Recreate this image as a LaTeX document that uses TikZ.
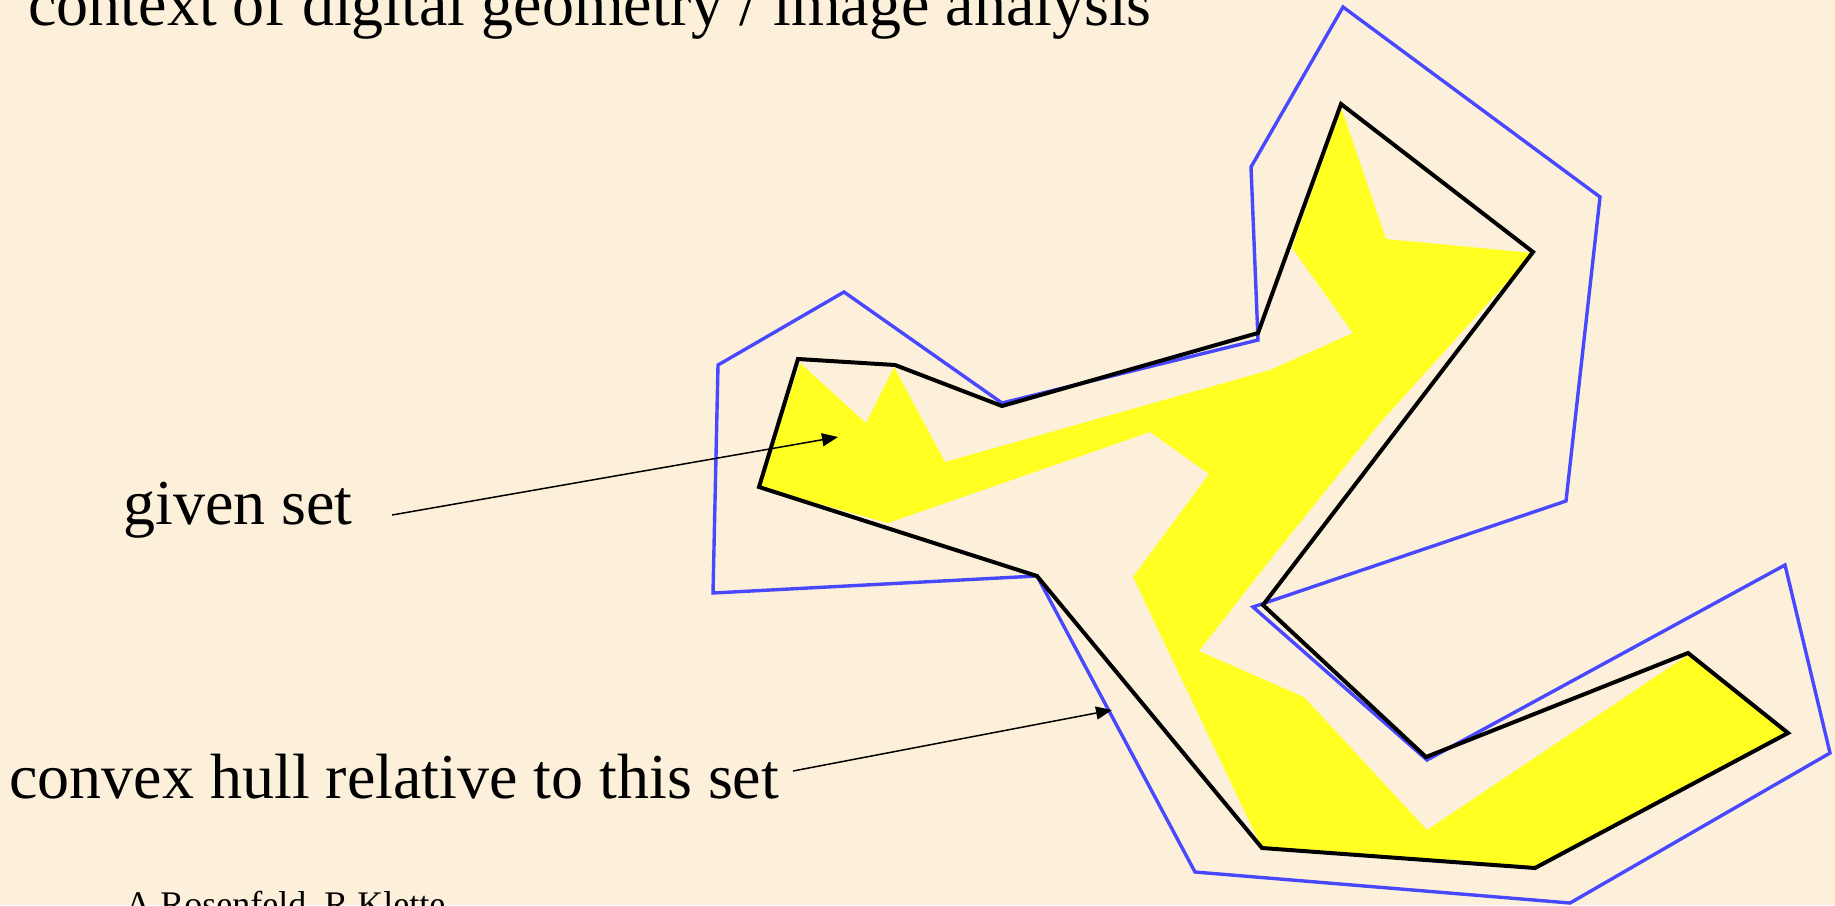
\documentclass[tikz,border=0pt]{standalone}
\usepackage{fontspec}
\setmainfont{Liberation Serif}
\usetikzlibrary{arrows.meta}
\definecolor{bg}{RGB}{252,240,218}
\definecolor{hullblue}{RGB}{72,72,255}
\definecolor{setyellow}{RGB}{255,255,34}
\tikzset{
  bigtext/.style={font=\fontsize{32}{38}\selectfont, inner sep=0pt, anchor=base west},
  smalltext/.style={font=\fontsize{18}{22}\selectfont, inner sep=0pt, anchor=base west},
  givenset/.style={fill=setyellow, draw=none},
  outerhull/.style={draw=hullblue, line width=1.7pt, line join=miter},
  relhull/.style={draw=black, line width=2pt, line join=miter},
  pointer/.style={draw=black, line width=0.75pt, -{Triangle[length=8pt,width=6.5pt]}}
}
\begin{document}
\begin{tikzpicture}[x=0.5pt,y=-0.5pt]
\path[use as bounding box, fill=bg] (0,0) rectangle (1835,905);
\begin{scope}
\clip (0,0) rectangle (1835,905);
% given set
\path[givenset] (800,363) -- (866,423) -- (894,367) -- (945,462) -- (1270,370)
  -- (1353,333) -- (1292,248) -- (1341,107) -- (1386,239) -- (1533,253)
  -- (1380,423) -- (1270,560) -- (1199,651) -- (1304,697) -- (1427,830)
  -- (1688,655) -- (1788,733) -- (1535,868) -- (1262,848) -- (1133,577)
  -- (1209,474) -- (1150,432) -- (888,523) -- (759,487) -- cycle;
% outer convex hull
\path[outerhull] (718,365) -- (844,292) -- (1002,403) -- (1258,340) -- (1251,167)
  -- (1343,7) -- (1600,197) -- (1566,501) -- (1253,607) -- (1427,760)
  -- (1785,565) -- (1830,753) -- (1570,903) -- (1195,872) -- (1037,576)
  -- (713,593) -- cycle;
% relative convex hull
\path[relhull] (798,359) -- (895,365) -- (1002,406) -- (1258,333) -- (1341,104)
  -- (1533,252) -- (1263,605) -- (1426,757) -- (1688,653) -- (1788,733)
  -- (1535,868) -- (1262,848) -- (1037,576) -- (759,487) -- cycle;
% texts
\node[bigtext] (title) at (28,25) {context of digital geometry / image analysis};
\node[bigtext] (given) at (123,524) {given set};
\node[bigtext] (convex) at (9,798) {convex hull relative to this set};
\node[smalltext] (authors) at (125,916) {A Rosenfeld, R Klette};
% arrows
\coordinate (givenstart) at (392,515);
\coordinate (givenend) at (838,437);
\coordinate (convexstart) at (793,771);
\coordinate (convexend) at (1112,710);
\draw[pointer] (givenstart) -- (givenend);
\draw[pointer] (convexstart) -- (convexend);
\end{scope}
\end{tikzpicture}
\end{document}
